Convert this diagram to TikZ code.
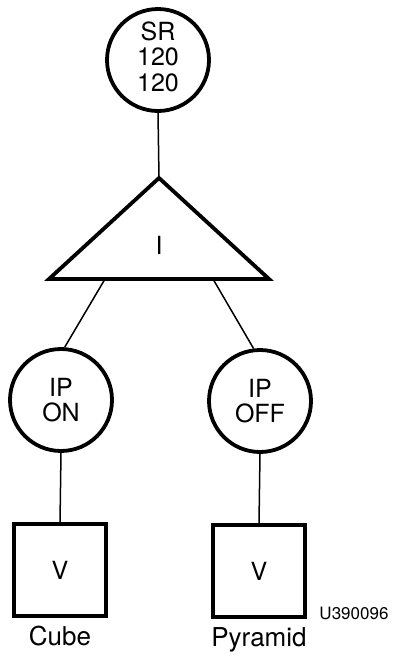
\documentclass[tikz,border=0pt]{standalone}
\usepackage{fontspec}
\setmainfont{TeX Gyre Heros}
\usetikzlibrary{positioning}

\begin{document}
\begin{tikzpicture}[
    x=1pt, y=-1pt,
    font=\fontsize{25}{25.5}\selectfont,
    state/.style={
        draw,
        circle,
        line width=3.8pt,
        align=center,
        inner sep=0pt,
        minimum size=102pt
    },
    viewbox/.style={
        draw,
        line width=3.8pt,
        inner sep=0pt,
        minimum size=92pt
    },
    caption/.style={
        font=\fontsize{26}{27}\selectfont
    },
    link/.style={
        line width=1.5pt
    }
]
\useasboundingbox (0,0) rectangle (392,656);

% Separator at the top
\node[state] (sr) at (158,60) {\raisebox{-6pt}{\begin{tabular}{@{}c@{}}SR\\120\\120\end{tabular}}};

% Instance triangle
\coordinate (apex) at (159,178);
\coordinate (baseleft) at (49,279);
\coordinate (baseright) at (269,279);
\draw[line width=3.8pt, line join=miter] (apex) -- (baseleft) -- (baseright) -- cycle;
\node (inst) at (159,245) {I};
\coordinate (forkleft) at (105,279);
\coordinate (forkright) at (213,279);

% Two pick states
\node[state] (ipon)  at (61,400)  {IP\\ON};
\node[state] (ipoff) at (260,401) {IP\\OFF};

% Views
\node[viewbox] (cube)    at (60,570)  {V};
\node[viewbox] (pyramid) at (259,571) {V};

% Captions
\node[caption, below=5pt of cube]    (cubetext)    {Cube};
\node[caption, below=5pt of pyramid] (pyramidtext) {Pyramid};
\node[font=\fontsize{17}{18}\selectfont, anchor=east] (code) at (392,613) {U390096};

% Links
\draw[link] (sr.south) -- (apex);
\draw[link] (forkleft) -- (ipon.86);
\draw[link] (forkright) -- (ipoff.97);
\draw[link] (ipon.south) -- (cube.north);
\draw[link] (ipoff.south) -- (pyramid.north);

\end{tikzpicture}
\end{document}
